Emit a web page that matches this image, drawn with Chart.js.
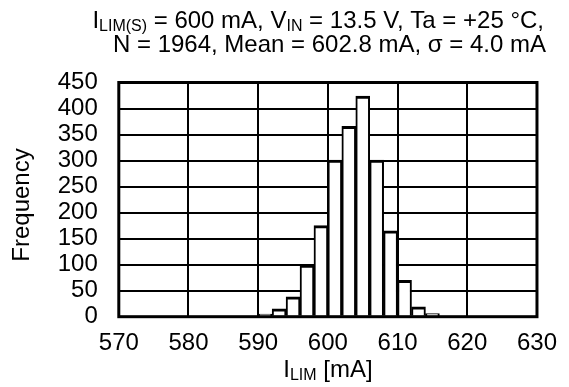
<!DOCTYPE html>
<html>
<head>
<meta charset="utf-8">
<script src="https://cdn.jsdelivr.net/npm/chart.js@4"></script>
<style>
  html, body { margin: 0; padding: 0; background: #fff; }
  #wrap { width: 569px; height: 387px; }
</style>
</head>
<body>
<div id="wrap"><canvas id="chart" width="569" height="387"></canvas></div>
<script>
// Histogram of current limit: bin lower edges (mA) and counts
const binStarts = [590, 592, 594, 596, 598, 600, 602, 604, 606, 608, 610, 612, 614];
const binWidth = 2;
const counts = [5, 15, 38, 99, 175, 301, 366, 424, 301, 165, 70, 19, 6];

// Axis ticks
const xTicks = [570, 580, 590, 600, 610, 620, 630];
const yTicks = [0, 50, 100, 150, 200, 250, 300, 350, 400, 450];

const FONT = '"Liberation Sans", Arial, sans-serif';
const FS = 24;   // main font size
const SUB = 16;  // subscript size

// Draw a run of normal / subscript pieces
function drawParts(ctx, parts, x, y, align) {
    let total = 0;
    parts.forEach(p => {
        ctx.font = (p[1] === 's' ? SUB : FS) + 'px ' + FONT;
        total += ctx.measureText(p[0]).width;
    });
    let cx = align === 'right' ? x - total : align === 'center' ? x - total / 2 : x;
    ctx.textAlign = 'left';
    ctx.textBaseline = 'alphabetic';
    parts.forEach(p => {
        let sub = p[1] === 's';
        ctx.font = (sub ? SUB : FS) + 'px ' + FONT;
        ctx.fillText(p[0], cx, sub ? y + 3 : y);
        cx += ctx.measureText(p[0]).width;
    });
}

// Titles, axis names and the heavy frame
const textPlugin = {
    id: 'texts',
    afterDraw(chart) {
        const ctx = chart.ctx;
        const a = chart.chartArea;
        ctx.save();
        ctx.fillStyle = '#000';

        drawParts(ctx, [['I', 'n'], ['LIM(S)', 's'], [' = 600 mA, V', 'n'], ['IN', 's'],
                        [' = 13.5 V, Ta = +25 \u00b0C,', 'n']], 544, 28, 'right');
        drawParts(ctx, [['N = 1964, Mean = 602.8 mA, \u03c3 = 4.0 mA', 'n']], 546, 52, 'right');

        drawParts(ctx, [['I', 'n'], ['LIM', 's'], [' [mA]', 'n']], (a.left + a.right) / 2, 377, 'center');

        ctx.save();
        ctx.translate(29, 205);
        ctx.rotate(-Math.PI / 2);
        ctx.font = FS + 'px ' + FONT;
        ctx.textAlign = 'center';
        ctx.textBaseline = 'alphabetic';
        ctx.fillText('Frequency', 0, 0);
        ctx.restore();

        ctx.strokeStyle = '#000';
        ctx.lineWidth = 3;
        ctx.strokeRect(a.left, a.top, a.right - a.left, a.bottom - a.top);
        ctx.restore();
    }
};

const points = binStarts.map((s, i) => ({x: s + binWidth / 2, y: counts[i]}));

new Chart(document.getElementById('chart'), {
    type: 'bar',
    data: {
        datasets: [{
            data: points,
            backgroundColor: '#fff',
            borderColor: '#000',
            borderWidth: {top: 3, left: 2, right: 2, bottom: 0},
            borderSkipped: false,
            barPercentage: 1,
            categoryPercentage: 1
        }]
    },
    options: {
        responsive: false,
        animation: false,
        devicePixelRatio: 1,
        layout: {padding: {left: 0, top: 82.5, right: 18.8, bottom: 0}},
        plugins: {legend: {display: false}, tooltip: {enabled: false}},
        scales: {
            x: {
                type: 'linear',
                offset: false,
                min: xTicks[0],
                max: xTicks[xTicks.length - 1],
                afterBuildTicks: s => { s.ticks = xTicks.map(v => ({value: v})); },
                afterFit: s => { s.height = 387 - 316.7; },
                grid: {color: '#000', lineWidth: 2, drawTicks: false, offset: false},
                border: {display: false},
                ticks: {color: '#000', font: {family: FONT, size: FS}, padding: 12,
                        autoSkip: false, maxRotation: 0}
            },
            y: {
                min: yTicks[0],
                max: yTicks[yTicks.length - 1],
                afterBuildTicks: s => { s.ticks = yTicks.map(v => ({value: v})); },
                afterFit: s => { s.width = 118.8; },
                grid: {color: '#000', lineWidth: 2, drawTicks: false},
                border: {display: false},
                ticks: {color: '#000', font: {family: FONT, size: FS}, padding: 21,
                        autoSkip: false}
            }
        }
    },
    plugins: [textPlugin]
});
</script>
</body>
</html>
